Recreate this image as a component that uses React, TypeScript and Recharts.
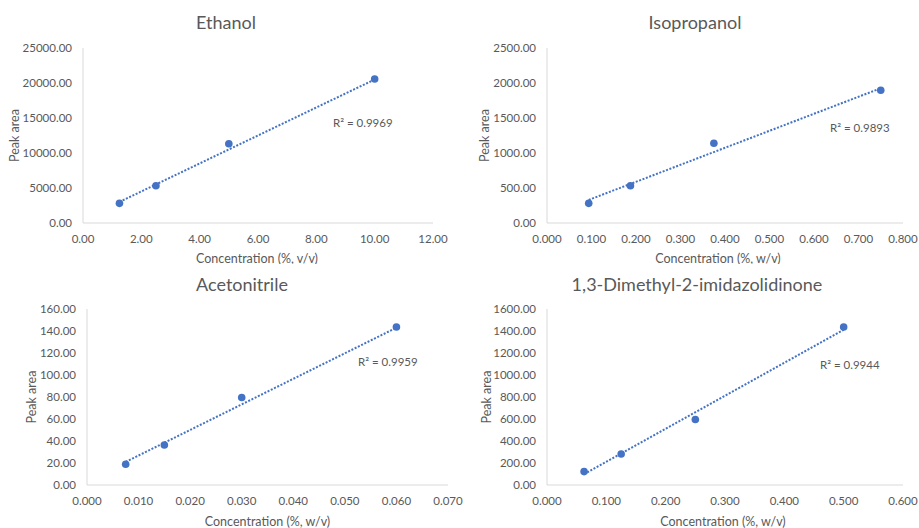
import React from "react";
import { ScatterChart, Scatter, XAxis, YAxis, ReferenceDot } from "recharts";

// concentrations and peak areas
const ethanolConc = [1.25, 2.5, 5, 10];
const ethanolArea = [2810, 5330, 11330, 20570];
const ethanolTrendConc = [1.25, 10];
const ethanolTrendArea = [3010, 20500];
const ethanolXTicks = [0, 2, 4, 6, 8, 10, 12];
const ethanolYTicks = [0, 5000, 10000, 15000, 20000, 25000];

const ipaConc = [0.09375, 0.1875, 0.375, 0.75];
const ipaArea = [281, 533, 1139, 1896];
const ipaTrendConc = [0.09375, 0.75];
const ipaTrendArea = [330, 1925];
const ipaXTicks = [0, 0.1, 0.2, 0.3, 0.4, 0.5, 0.6, 0.7, 0.8];
const ipaYTicks = [0, 500, 1000, 1500, 2000, 2500];

const acnConc = [0.0075, 0.015, 0.03, 0.06];
const acnArea = [18.9, 36.4, 79.6, 143.6];
const acnTrendConc = [0.0075, 0.06];
const acnTrendArea = [21, 143];
const acnXTicks = [0, 0.01, 0.02, 0.03, 0.04, 0.05, 0.06, 0.07];
const acnYTicks = [0, 20, 40, 60, 80, 100, 120, 140, 160];

const dmiConc = [0.0625, 0.125, 0.25, 0.5];
const dmiArea = [122, 282, 596, 1436];
const dmiTrendConc = [0.0625, 0.5];
const dmiTrendArea = [100, 1411];
const dmiXTicks = [0, 0.1, 0.2, 0.3, 0.4, 0.5, 0.6];
const dmiYTicks = [0, 200, 400, 600, 800, 1000, 1200, 1400, 1600];

const blue = "#4472C4";
const grey = "#595959";
const axisGrey = "#D9D9D9";
const font = "Lato, 'Liberation Sans', sans-serif";

const toPts = (xs: number[], ys: number[]) => xs.map((x, i) => ({ x, y: ys[i] }));

const panels = [
  {
    title: "Ethanol", xTitle: "Concentration (%, v/v)", r2: "R² = 0.9969",
    pts: toPts(ethanolConc, ethanolArea), trend: toPts(ethanolTrendConc, ethanolTrendArea),
    xTicks: ethanolXTicks, yTicks: ethanolYTicks, xDigits: 2,
    left: 0, top: 0, width: 460, plotLeft: 83, plotRight: 433, plotTop: 48, plotBottom: 223,
    titleX: 226, titleY: 22, yLabelX: 15, xTitleOffset: 1.5, xTitleDx: -1, r2At: [8.57, 14286],
  },
  {
    title: "Isopropanol", xTitle: "Concentration (%, w/v)", r2: "R² = 0.9893",
    pts: toPts(ipaConc, ipaArea), trend: toPts(ipaTrendConc, ipaTrendArea),
    xTicks: ipaXTicks, yTicks: ipaYTicks, xDigits: 3,
    left: 460, top: 0, width: 459, plotLeft: 87, plotRight: 443, plotTop: 48, plotBottom: 223,
    titleX: 235, titleY: 22, yLabelX: 25, xTitleOffset: 1.5, xTitleDx: -7, r2At: [0.636, 1361],
  },
  {
    title: "Acetonitrile", xTitle: "Concentration (%, w/v)", r2: "R² = 0.9959",
    pts: toPts(acnConc, acnArea), trend: toPts(acnTrendConc, acnTrendArea),
    xTicks: acnXTicks, yTicks: acnYTicks, xDigits: 3,
    left: 0, top: 264, width: 470, plotLeft: 87, plotRight: 448, plotTop: 45, plotBottom: 221,
    titleX: 242, titleY: 20, yLabelX: 32, xTitleOffset: 2.5, xTitleDx: 0, r2At: [0.05255, 111.5],
  },
  {
    title: "1,3-Dimethyl-2-imidazolidinone", xTitle: "Concentration (%, w/v)", r2: "R² = 0.9944",
    pts: toPts(dmiConc, dmiArea), trend: toPts(dmiTrendConc, dmiTrendArea),
    xTicks: dmiXTicks, yTicks: dmiYTicks, xDigits: 3,
    left: 460, top: 264, width: 459, plotLeft: 87, plotRight: 443, plotTop: 45, plotBottom: 221,
    titleX: 237, titleY: 20, yLabelX: 27, xTitleOffset: 2.5, xTitleDx: -2, r2At: [0.46, 1091],
  },
];

const Marker = (props: any) =>
  props.cx == null ? <g /> : <circle cx={props.cx} cy={props.cy} r={3.8} fill={blue} />;
const NoMarker = () => <g />;

function Panel({ p }: { p: any }) {
  const H = 264;
  return (
    <div style={{ position: "absolute", left: p.left, top: p.top, width: p.width, height: H }}>
      <div
        style={{
          position: "absolute", left: p.titleX - 200, width: 400, top: p.titleY - 11,
          textAlign: "center", fontSize: 18, lineHeight: "22px", color: grey, fontFamily: font,
        }}
      >
        {p.title}
      </div>
      <ScatterChart
        width={p.width}
        height={H}
        margin={{ top: p.plotTop, right: p.width - p.plotRight, left: 0, bottom: 0 }}
        style={{ fontFamily: font }}
      >
        <XAxis
          type="number"
          dataKey="x"
          domain={[p.xTicks[0], p.xTicks[p.xTicks.length - 1]]}
          ticks={p.xTicks}
          interval={0}
          tickFormatter={(v: number) => v.toFixed(p.xDigits)}
          height={H - p.plotBottom}
          stroke={axisGrey}
          tickLine={false}
          tickMargin={6}
          tick={{ fill: grey, fontSize: 11.5 }}
          label={{ value: p.xTitle, position: "insideBottom", offset: p.xTitleOffset, dx: p.xTitleDx, fill: grey, fontSize: 12.5 }}
        />
        <YAxis
          type="number"
          dataKey="y"
          domain={[p.yTicks[0], p.yTicks[p.yTicks.length - 1]]}
          ticks={p.yTicks}
          interval={0}
          tickFormatter={(v: number) => v.toFixed(2)}
          width={p.plotLeft}
          stroke={axisGrey}
          tickLine={false}
          tickMargin={5}
          tick={{ fill: grey, fontSize: 11.5 }}
          label={{ value: "Peak area", angle: -90, position: "insideLeft", offset: p.yLabelX, fill: grey, fontSize: 12.5, style: { textAnchor: "middle" } }}
        />
        <Scatter
          data={p.trend}
          fill={blue}
          line={{ stroke: blue, strokeWidth: 2, strokeDasharray: "2 1.6" }}
          lineType="joint"
          shape={NoMarker}
          isAnimationActive={false}
        />
        <Scatter data={p.pts} fill={blue} shape={Marker} isAnimationActive={false} />
        <ReferenceDot
          x={p.r2At[0]}
          y={p.r2At[1]}
          r={0}
          fill="none"
          stroke="none"
          ifOverflow="visible"
          label={{ value: p.r2, position: "right", offset: 0, fill: grey, fontSize: 11.5 }}
        />
      </ScatterChart>
    </div>
  );
}

export default function App() {
  return (
    <div style={{ position: "absolute", left: 0, top: 0, width: 919, height: 528, background: "#fff" }}>
      {panels.map((p) => (
        <Panel key={p.title} p={p} />
      ))}
    </div>
  );
}
